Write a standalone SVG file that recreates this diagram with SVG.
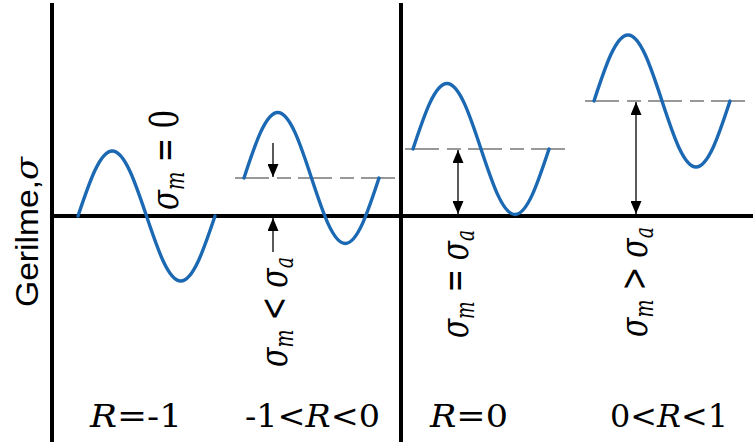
<svg xmlns="http://www.w3.org/2000/svg" width="753" height="446" viewBox="0 0 753 446">
<defs>
<style>
.axis{stroke:#000;stroke-width:4;fill:none}
.wave{stroke:#1b68b3;stroke-width:3.4;fill:none;stroke-linecap:round}
.dash{stroke:#777;stroke-width:1.3;fill:none;stroke-dasharray:34 8 14 7}
.arr{stroke:#000;stroke-width:1.3;fill:none}
.m{font-size:27px;fill:#000}
.it{font-style:italic}
.sub{font-style:italic;font-size:18px}
.lbl{font-size:31px;fill:#000}
.ylab{font-size:31px;fill:#000}
</style>
<marker id="ah" viewBox="0 0 13 11" refX="13" refY="5.5" markerWidth="13" markerHeight="11" markerUnits="userSpaceOnUse" orient="auto-start-reverse">
<path d="M0,0 L13,5.5 L0,11 z" fill="#000"/>
</marker>
</defs>
<rect width="753" height="446" fill="#fff"/>
<g id="connectors">
<line class="axis" x1="52" y1="3" x2="52" y2="442"/>
<line class="axis" x1="401" y1="3" x2="401" y2="442"/>
<line class="axis" x1="52" y1="216" x2="753" y2="216"/>
<line class="dash" x1="235" y1="178" x2="397" y2="178"/>
<line class="dash" x1="405" y1="149" x2="566" y2="149"/>
<line class="dash" x1="585" y1="101" x2="747" y2="101"/>
<line class="arr" x1="273" y1="143" x2="273" y2="177" marker-end="url(#ah)"/>
<line class="arr" x1="273" y1="252" x2="273" y2="218" marker-end="url(#ah)"/>
<line class="arr" x1="458" y1="150" x2="458" y2="214" marker-start="url(#ah)" marker-end="url(#ah)"/>
<line class="arr" x1="636" y1="102" x2="636" y2="214" marker-start="url(#ah)" marker-end="url(#ah)"/>
</g>
<g id="ylabel">
<text class="ylab" font-family="Liberation Sans, sans-serif" transform="translate(38,307) rotate(-90)" textLength="150" lengthAdjust="spacingAndGlyphs">Gerilme,<tspan font-family="DejaVu Serif, serif" font-style="italic">σ</tspan></text>
</g>
<g font-family="DejaVu Serif, serif">
<g id="panel1">
<path class="wave" d="M78,216 C89.17,182.7 99.85,151 112.25,151 C124.65,151 135.33,182.7 146.5,216 C157.67,249.3 168.35,281 180.75,281 C193.15,281 203.83,249.3 215,216"/>
<text class="m" transform="translate(178,210) scale(1.45,1) rotate(-90)" textLength="100" lengthAdjust="spacingAndGlyphs"><tspan class="it">σ</tspan><tspan class="sub" dy="4">m</tspan><tspan dy="-4"> = 0</tspan></text>
<text class="lbl" x="90" y="427" textLength="92" lengthAdjust="spacingAndGlyphs"><tspan class="it">R</tspan>=-1</text>
</g>
<g id="panel2">
<path class="wave" d="M244,178 C255.01,144.44 265.54,112.5 277.75,112.5 C289.96,112.5 300.49,144.44 311.5,178 C322.51,211.56 333.04,243.5 345.25,243.5 C357.46,243.5 367.99,211.56 379,178"/>
<text class="m" transform="translate(287,367) scale(1.45,1) rotate(-90)" textLength="110" lengthAdjust="spacingAndGlyphs"><tspan class="it">σ</tspan><tspan class="sub" dy="4">m</tspan><tspan dy="-4"> &lt; </tspan><tspan class="it">σ</tspan><tspan class="sub" dy="4">a</tspan></text>
<text class="lbl" x="245" y="427" textLength="135" lengthAdjust="spacingAndGlyphs">-1&lt;<tspan class="it">R</tspan>&lt;0</text>
</g>
<g id="panel3">
<path class="wave" d="M413,149 C424.09,115.44 434.7,83.5 447,83.5 C459.3,83.5 469.91,115.44 481,149 C492.09,182.56 502.7,214.5 515,214.5 C527.3,214.5 537.91,182.56 549,149"/>
<text class="m" transform="translate(468,338) scale(1.45,1) rotate(-90)" textLength="108" lengthAdjust="spacingAndGlyphs"><tspan class="it">σ</tspan><tspan class="sub" dy="4">m</tspan><tspan dy="-4"> = </tspan><tspan class="it">σ</tspan><tspan class="sub" dy="4">a</tspan></text>
<text class="lbl" x="430" y="427" textLength="78" lengthAdjust="spacingAndGlyphs"><tspan class="it">R</tspan>=0</text>
</g>
<g id="panel4">
<path class="wave" d="M594,101 C605.09,67.19 615.7,35 628,35 C640.3,35 650.91,67.19 662,101 C673.09,134.81 683.7,167 696,167 C708.3,167 718.91,134.81 730,101"/>
<text class="m" transform="translate(647,337) scale(1.45,1) rotate(-90)" textLength="110" lengthAdjust="spacingAndGlyphs"><tspan class="it">σ</tspan><tspan class="sub" dy="4">m</tspan><tspan dy="-4"> &gt; </tspan><tspan class="it">σ</tspan><tspan class="sub" dy="4">a</tspan></text>
<text class="lbl" x="610" y="427" textLength="118" lengthAdjust="spacingAndGlyphs">0&lt;<tspan class="it">R</tspan>&lt;1</text>
</g>
</g>
</svg>
